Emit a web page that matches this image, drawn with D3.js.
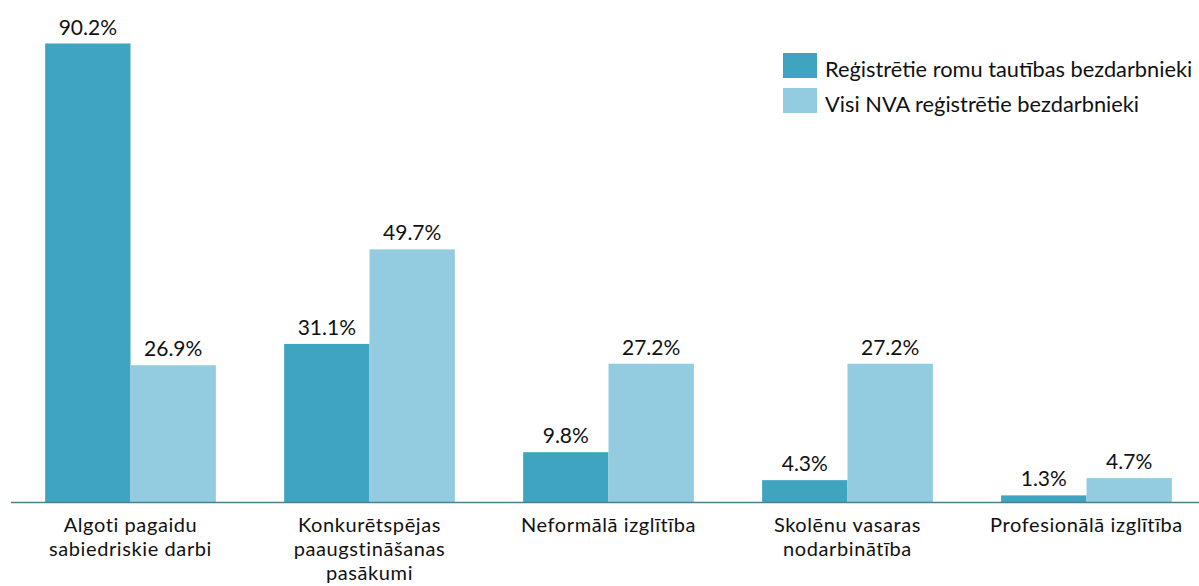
<!DOCTYPE html>
<html><head><meta charset="utf-8">
<script src="https://cdn.jsdelivr.net/npm/d3@7"></script>
<style>body{margin:0;background:#fff}svg{display:block}text{font-family:Lato,"Open Sans",sans-serif;fill:#111}</style>
</head><body><svg id="c" width="1199" height="586"></svg>
<script>
const categories = [["Algoti pagaidu","sabiedriskie darbi"],["Konkurētspējas","paaugstināšanas","pasākumi"],["Neformālā izglītība"],["Skolēnu vasaras","nodarbinātība"],["Profesionālā izglītība"]];
const seriesNames = ["Reģistrētie romu tautības bezdarbnieki","Visi NVA reģistrētie bezdarbnieki"];
const roma = [90.2, 31.1, 9.8, 4.3, 1.3];
const all = [26.9, 49.7, 27.2, 27.2, 4.7];
const colors = ["#3fa4bf","#93cce0"];

const svg = d3.select("#c");
const x0 = d3.scaleBand().domain(d3.range(categories.length)).range([11, 1206]).paddingInner(0.2857).paddingOuter(0.1429);
const x1 = d3.scaleBand().domain([0,1]).range([0, x0.bandwidth()]);
const y = d3.scaleLinear().domain([0, 90.2]).range([502, 43.5]);
const series = [roma, all];

const g = svg.append("g");
series.forEach((vals, si) => {
  g.selectAll(".b"+si).data(vals).join("rect")
    .attr("x", (d,i) => x0(i) + x1(si))
    .attr("y", d => y(d))
    .attr("width", x1.bandwidth())
    .attr("height", d => y(0) - y(d))
    .attr("fill", colors[si]);
  g.selectAll(".l"+si).data(vals).join("text")
    .attr("x", (d,i) => x0(i) + x1(si) + x1.bandwidth()/2)
    .attr("y", d => y(d) - 9)
    .attr("text-anchor","middle")
    .attr("font-size", 21)
    .text(d => d.toFixed(1) + "%");
});

svg.append("line").attr("x1", 11).attr("x2", 1199).attr("y1", 502.5).attr("y2", 502.5)
  .attr("stroke", "#4d7f8e").attr("stroke-width", 1.5);

categories.forEach((lines, i) => {
  lines.forEach((ln, k) => {
    svg.append("text").attr("text-anchor","middle").attr("font-size", 20).attr("letter-spacing", 0.6)
      .attr("x", x0(i) + x0.bandwidth()/2).attr("y", 532 + k*24).text(ln);
  });
});

const leg = svg.append("g");
seriesNames.forEach((n, i) => {
  leg.append("rect").attr("x", 783).attr("y", 53 + i*35).attr("width", 34).attr("height", 25).attr("fill", colors[i]);
  leg.append("text").attr("x", 825).attr("y", 77 + i*34.5).attr("font-size", 21.8).text(n);
});
</script></body></html>
